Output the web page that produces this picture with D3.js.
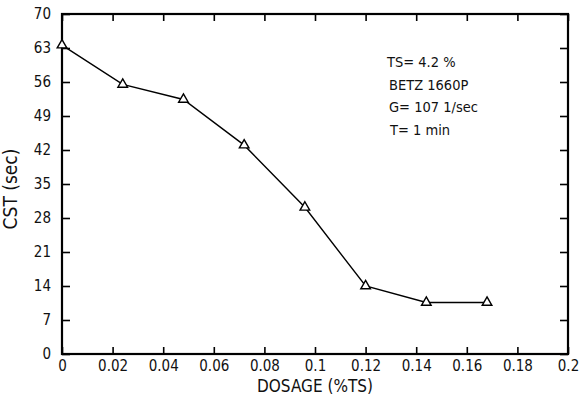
<!DOCTYPE html>
<html>
<head>
<meta charset="utf-8">
<script src="https://cdn.jsdelivr.net/npm/d3@7"></script>
<style>
  body { margin: 0; background: #fff; }
  svg { display: block; }
  text { font-family: 'DejaVu Sans Condensed', 'Liberation Sans Narrow', sans-serif; fill: #111; }
</style>
</head>
<body>
<svg></svg>
<script>
const width = 579;
const height = 399;
const margin = { top: 14, right: 11, bottom: 45, left: 62 };

// data
const dosage = [0, 0.024, 0.048, 0.072, 0.096, 0.12, 0.144, 0.168];
const cst = [63.6, 55.5, 52.4, 43.0, 30.2, 14.0, 10.6, 10.6];
const xTicks = [0, 0.02, 0.04, 0.06, 0.08, 0.1, 0.12, 0.14, 0.16, 0.18, 0.2];
const yTicks = [0, 7, 14, 21, 28, 35, 42, 49, 56, 63, 70];
const notes = ['TS= 4.2 %', 'BETZ 1660P', 'G= 107 1/sec', 'T= 1 min'];

const svg = d3.select('svg').attr('width', width).attr('height', height);
const iw = width - margin.left - margin.right;
const ih = height - margin.top - margin.bottom;
const g = svg.append('g').attr('transform', `translate(${margin.left}, ${margin.top})`);

const x = d3.scaleLinear().domain([0, 0.2]).range([0, iw]);
const y = d3.scaleLinear().domain([0, 70]).range([ih, 0]);

const fmtX = d => d === 0 ? '0' : String(+d.toFixed(2));

// inward ticks on all four sides
function styleAxis(sel) {
    sel.select('.domain').remove();
    sel.selectAll('.tick line').attr('stroke', '#000').attr('stroke-width', 1.6);
    sel.selectAll('.tick text').attr('font-size', 15).attr('fill', '#111');
}

g.append('g').attr('transform', `translate(0, ${ih})`)
    .call(d3.axisBottom(x).tickValues(xTicks).tickSizeInner(-7).tickSizeOuter(0)
        .tickPadding(6).tickFormat(fmtX))
    .call(styleAxis);

g.append('g')
    .call(d3.axisTop(x).tickValues(xTicks).tickSizeInner(-7).tickSizeOuter(0).tickFormat(''))
    .call(styleAxis);

g.append('g')
    .call(d3.axisLeft(y).tickValues(yTicks).tickSizeInner(-8).tickSizeOuter(0)
        .tickPadding(11).tickFormat(d3.format('d')))
    .call(styleAxis);

g.append('g').attr('transform', `translate(${iw}, 0)`)
    .call(d3.axisRight(y).tickValues(yTicks).tickSizeInner(-8).tickSizeOuter(0).tickFormat(''))
    .call(styleAxis);

// frame
g.append('rect')
    .attr('width', iw).attr('height', ih)
    .attr('fill', 'none').attr('stroke', '#000').attr('stroke-width', 2.2);

const pts = dosage.map((d, i) => [d, cst[i]]);

g.append('path')
    .datum(pts)
    .attr('fill', 'none')
    .attr('stroke', '#000')
    .attr('stroke-width', 1.4)
    .attr('d', d3.line().x(d => x(d[0])).y(d => y(d[1])));

g.selectAll('.mark').data(pts).enter().append('path')
    .attr('class', 'mark')
    .attr('transform', d => `translate(${x(d[0])}, ${y(d[1])})`)
    .attr('d', d3.symbol().type(d3.symbolTriangle).size(40))
    .attr('fill', '#fff')
    .attr('stroke', '#000')
    .attr('stroke-width', 1.4);

// annotation
const note = g.append('g').attr('font-size', 14.5);
note.selectAll('text').data(notes).enter().append('text')
    .attr('x', (d, i) => 325 + [0, 2, 2, 3][i])
    .attr('y', (d, i) => 53 + i * 22.5)
    .text(d => d);

// axis titles
g.append('text')
    .attr('x', iw / 2)
    .attr('y', ih + 38)
    .attr('text-anchor', 'middle')
    .attr('font-size', 17)
    .text('DOSAGE (%TS)');

g.append('text')
    .attr('transform', `translate(${-45}, ${ih / 2 + 5}) rotate(-90)`)
    .attr('text-anchor', 'middle')
    .attr('font-size', 19)
    .text('CST (sec)');
</script>
</body>
</html>
